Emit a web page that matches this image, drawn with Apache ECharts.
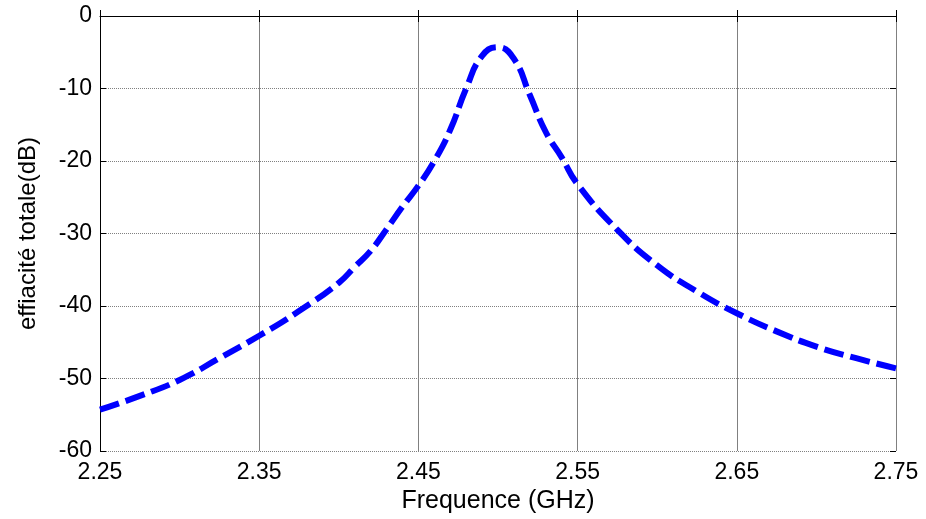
<!DOCTYPE html>
<html>
<head>
<meta charset="utf-8">
<script src="https://cdn.jsdelivr.net/npm/echarts@6/dist/echarts.min.js"></script>
<style>html,body{margin:0;padding:0;background:#fff;}#c{width:926px;height:519px;}</style>
</head>
<body>
<div id="c"></div>
<script>
const freqs = [2.25, 2.275, 2.30, 2.325, 2.35, 2.375, 2.40, 2.41, 2.42, 2.43, 2.44, 2.45, 2.46, 2.47, 2.48, 2.49, 2.50, 2.51, 2.52, 2.53, 2.54, 2.55, 2.575, 2.60, 2.625, 2.65, 2.675, 2.70, 2.725, 2.75];
const efficiency = [-54.3, -52.4, -50.2, -47.2, -44.1, -40.7, -36.8, -34.6, -32.4, -29.4, -26.3, -23.4, -20.0, -15.7, -10.0, -5.5, -4.3, -5.9, -10.9, -16.0, -19.5, -23.2, -29.5, -34.4, -38.0, -41.0, -43.5, -45.6, -47.2, -48.6];
const xTickStart = 2.25, xTickEnd = 2.75, xTickStep = 0.1;
const yTickStart = -60, yTickEnd = 0, yTickStep = 10;
const xName = 'Frequence (GHz)';
const yName = 'effiacité totale(dB)';

const font = '"Liberation Sans", Arial, sans-serif';
const chart = echarts.init(document.getElementById('c'), null, {renderer: 'canvas'});
const pts = freqs.map((f, i) => [f, efficiency[i]]);
chart.setOption({
  animation: false,
  backgroundColor: '#ffffff',
  grid: {left: 100, right: 30, top: 16, bottom: 68, containLabel: false},
  xAxis: [{
    type: 'value', min: xTickStart, max: xTickEnd, interval: xTickStep,
    name: xName, nameLocation: 'middle', nameGap: 37,
    nameTextStyle: {fontFamily: font, fontSize: 25, color: '#000'},
    axisLine: {show: true, lineStyle: {color: '#000', width: 1}},
    axisTick: {show: true, inside: true, length: 6, lineStyle: {color: '#000'}},
    axisLabel: {fontFamily: font, fontSize: 23, color: '#000', margin: 10,
      formatter: v => v.toFixed(2)},
    splitLine: {show: true, lineStyle: {color: '#808080', width: 1, type: 'solid'}}
  }, {
    type: 'value', position: 'top', min: xTickStart, max: xTickEnd, interval: xTickStep,
    axisLine: {show: false},
    axisTick: {show: true, inside: true, length: 6, lineStyle: {color: '#000'}},
    axisLabel: {show: false}, splitLine: {show: false}
  }],
  yAxis: [{
    type: 'value', min: yTickStart, max: yTickEnd, interval: yTickStep,
    name: yName, nameLocation: 'middle', nameGap: 60, nameRotate: 90,
    nameTextStyle: {fontFamily: font, fontSize: 24, color: '#000'},
    axisLine: {show: true, lineStyle: {color: '#000', width: 1}},
    axisTick: {show: true, inside: true, length: 6, lineStyle: {color: '#000'}},
    axisLabel: {fontFamily: font, fontSize: 23, color: '#000', margin: 8},
    splitLine: {show: true, lineStyle: {color: '#808080', width: 1, type: [1, 1]}}
  }, {
    type: 'value', position: 'right', min: yTickStart, max: yTickEnd, interval: yTickStep,
    axisLine: {show: false},
    axisTick: {show: true, inside: true, length: 6, lineStyle: {color: '#000'}},
    axisLabel: {show: false}, splitLine: {show: false}
  }],
  series: [{
    type: 'line', data: pts, xAxisIndex: 0, yAxisIndex: 0,
    showSymbol: false, smooth: 0.5,
    lineStyle: {color: '#0000ff', width: 6, type: [20, 7], cap: 'butt', join: 'round'}
  }]
});
</script>
</body>
</html>
